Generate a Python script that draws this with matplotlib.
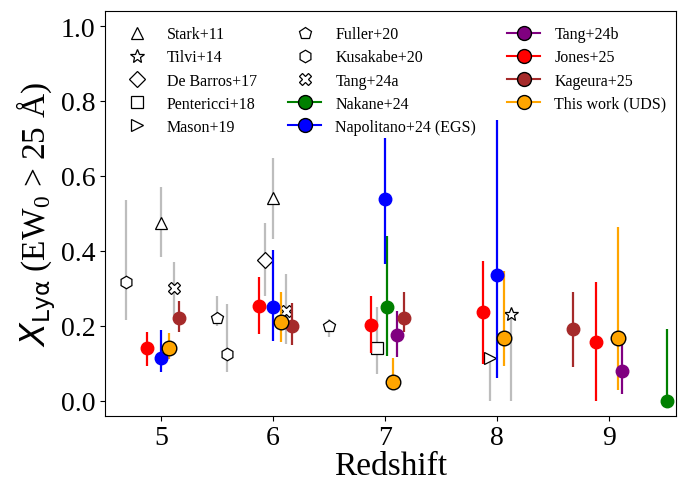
import matplotlib
matplotlib.use("Agg")
import matplotlib.pyplot as plt
from matplotlib.lines import Line2D
import numpy as np

plt.rcParams['font.family'] = ['Liberation Serif', 'DejaVu Serif']
plt.rcParams['mathtext.fontset'] = 'custom'
plt.rcParams['mathtext.rm'] = 'Liberation Serif'
plt.rcParams['mathtext.it'] = 'DejaVu Sans:italic'
plt.rcParams['mathtext.sf'] = 'DejaVu Sans'

# ---- literature (open markers, gray error bars) ----
stark_z = [5.0, 6.0]; stark_y = [0.475, 0.54]; stark_lo = [0.383, 0.432]; stark_hi = [0.571, 0.648]
tilvi_z = [8.13]; tilvi_y = [0.232]; tilvi_lo = [0.0]; tilvi_hi = [0.232]
debarros_z = [5.93]; debarros_y = [0.376]; debarros_lo = [0.28]; debarros_hi = [0.473]
pentericci_z = [6.93]; pentericci_y = [0.14]; pentericci_lo = [0.07]; pentericci_hi = [0.25]
mason_z = [7.94]; mason_y = [0.113]; mason_lo = [0.0]; mason_hi = [0.113]
fuller_z = [5.5, 6.5]; fuller_y = [0.22, 0.2]; fuller_lo = [0.2, 0.169]; fuller_hi = [0.28, 0.218]
kusakabe_z = [4.69, 5.59]; kusakabe_y = [0.316, 0.125]; kusakabe_lo = [0.214, 0.075]; kusakabe_hi = [0.536, 0.258]
tang24a_z = [5.12, 6.12]; tang24a_y = [0.30, 0.239]; tang24a_lo = [0.227, 0.151]; tang24a_hi = [0.37, 0.339]

# ---- coloured series ----
nakane_z = [7.02, 9.52]; nakane_y = [0.25, 0.0]; nakane_lo = [0.12, 0.0]; nakane_hi = [0.44, 0.19]
napol_z = [5.0, 6.0, 7.0, 8.0]; napol_y = [0.113, 0.25, 0.539, 0.336]
napol_lo = [0.077, 0.16, 0.365, 0.06]; napol_hi = [0.189, 0.401, 0.70, 0.748]
tang24b_z = [7.11, 9.12]; tang24b_y = [0.175, 0.08]; tang24b_lo = [0.116, 0.017]; tang24b_hi = [0.24, 0.151]
jones_z = [4.88, 5.88, 6.88, 7.88, 8.89]; jones_y = [0.14, 0.252, 0.202, 0.236, 0.157]
jones_lo = [0.093, 0.178, 0.126, 0.098, 0.0]; jones_hi = [0.183, 0.33, 0.28, 0.372, 0.316]
kageura_z = [5.16, 6.17, 7.17, 8.68]; kageura_y = [0.22, 0.2, 0.22, 0.19]
kageura_lo = [0.183, 0.149, 0.183, 0.089]; kageura_hi = [0.267, 0.26, 0.29, 0.29]
this_z = [5.07, 6.07, 7.07, 8.07, 9.08]; this_y = [0.14, 0.209, 0.05, 0.167, 0.167]
this_lo = [0.11, 0.156, 0.03, 0.093, 0.029]; this_hi = [0.18, 0.29, 0.113, 0.346, 0.464]

fig = plt.figure(figsize=(6.86, 4.81), dpi=100)
ax = fig.add_axes([0.153, 0.134, 0.832, 0.841])

gray = '#bdbdbd'

def yerr(y, lo, hi):
    y = np.asarray(y); return [y - np.asarray(lo), np.asarray(hi) - y]

lit = [
    (stark_z, stark_y, stark_lo, stark_hi, '^', 9, 'Stark+11'),
    (tilvi_z, tilvi_y, tilvi_lo, tilvi_hi, '*', 10, 'Tilvi+14'),
    (debarros_z, debarros_y, debarros_lo, debarros_hi, 'D', 8, 'De Barros+17'),
    (pentericci_z, pentericci_y, pentericci_lo, pentericci_hi, 's', 8, 'Pentericci+18'),
    (mason_z, mason_y, mason_lo, mason_hi, '>', 8, 'Mason+19'),
    (fuller_z, fuller_y, fuller_lo, fuller_hi, 'p', 9, 'Fuller+20'),
    (kusakabe_z, kusakabe_y, kusakabe_lo, kusakabe_hi, 'h', 9, 'Kusakabe+20'),
    (tang24a_z, tang24a_y, tang24a_lo, tang24a_hi, 'X', 9, 'Tang+24a'),
]
handles = []
for z, y, lo, hi, m, ms, lab in lit:
    ax.errorbar(z, y, yerr=yerr(y, lo, hi), fmt='none', ecolor=gray, elinewidth=1.6, zorder=1)
    ax.plot(z, y, ls='none', marker=m, ms=ms, mfc='white', mec='black', mew=0.9, zorder=2)
    handles.append(Line2D([], [], ls='none', marker=m, ms=ms, mfc='white', mec='black', mew=0.9, label=lab))

col = [
    (nakane_z, nakane_y, nakane_lo, nakane_hi, 'green', 'Nakane+24', 9, 'none'),
    (napol_z, napol_y, napol_lo, napol_hi, 'blue', 'Napolitano+24 (EGS)', 9, 'none'),
    (tang24b_z, tang24b_y, tang24b_lo, tang24b_hi, 'purple', 'Tang+24b', 9, 'none'),
    (jones_z, jones_y, jones_lo, jones_hi, 'red', 'Jones+25', 9, 'none'),
    (kageura_z, kageura_y, kageura_lo, kageura_hi, 'brown', 'Kageura+25', 9, 'none'),
    (this_z, this_y, this_lo, this_hi, 'orange', 'This work (UDS)', 10.5, 'black'),
]
for z, y, lo, hi, c, lab, ms, ec in col:
    ax.errorbar(z, y, yerr=yerr(y, lo, hi), fmt='none', ecolor=c, elinewidth=1.6, zorder=3)
    ax.plot(z, y, ls='none', marker='o', ms=ms, mfc=c, mec=(c if ec == 'none' else ec), mew=1.0, zorder=4)
    handles.append(Line2D([], [], color=c, lw=1.5, marker='o', ms=10, mfc=c, mec='black', mew=1.0, label=lab))

ax.set_xlim(4.5, 9.6)
ax.set_ylim(-0.04, 1.04)
ax.set_xticks([5, 6, 7, 8, 9])
ax.set_yticks([0.0, 0.2, 0.4, 0.6, 0.8, 1.0])
ax.set_yticklabels(['0.0', '0.2', '0.4', '0.6', '0.8', '1.0'])
ax.tick_params(labelsize=20)
ax.set_xlabel('Redshift', fontsize=24, labelpad=0)
ax.set_ylabel(r'$X_{\mathsf{Ly}\mathsf{\alpha}}$ (EW$_{0}$ > 25 Å)', fontsize=24, labelpad=2)

leg = ax.legend(handles=handles, ncol=3, loc='upper left', bbox_to_anchor=(0.007, 0.99),
                frameon=False, fontsize=11.5, handlelength=2.07, columnspacing=1.95,
                labelspacing=0.45, handletextpad=0.87, borderaxespad=0.3)

fig.savefig('out.png', dpi=100)
